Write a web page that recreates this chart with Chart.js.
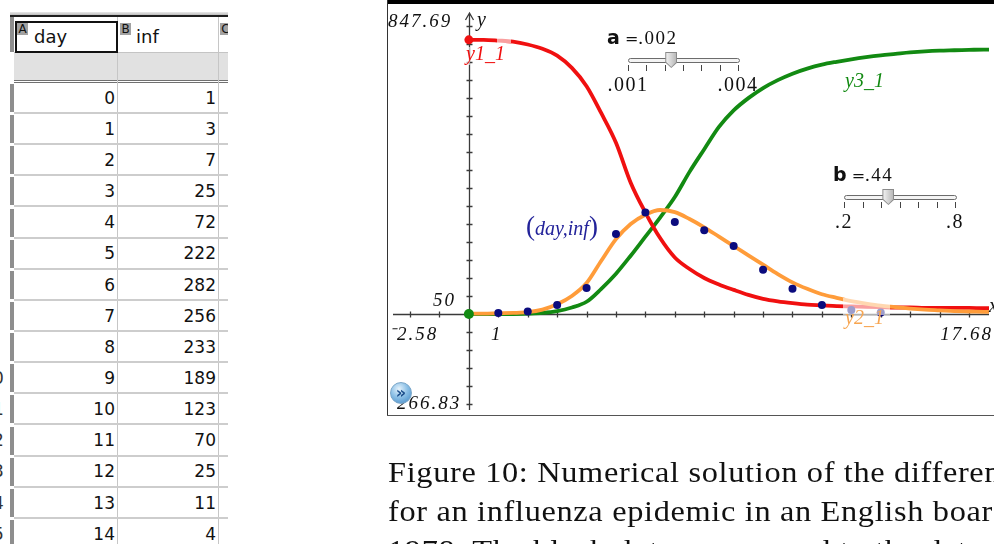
<!DOCTYPE html>
<html>
<head>
<meta charset="utf-8">
<title>Influenza epidemic – SIR model</title>
<script src="https://cdn.jsdelivr.net/npm/chart.js@4.4.1/dist/chart.umd.min.js"></script>
<style>
  body { margin: 0; width: 994px; height: 544px; overflow: hidden; background: #fff; position: relative; }
  .abs { position: absolute; }
  .txt { position: absolute; white-space: nowrap; }
  #sheet { position: absolute; left: 0; top: 0; width: 228px; height: 544px; overflow: hidden; font-family: "DejaVu Sans"; color: #1a1a1a; }
  .badge { position: absolute; width: 11px; height: 12px; background: #a2a2a2; font: 12px/12px "DejaVu Sans"; color: #111; text-align: center; }
  #graphBox { position: absolute; left: 388px; top: 4px; width: 606px; height: 411px; }
  .track { position: absolute; height: 3px; border: 1px solid #6c6c6c; border-radius: 3px; background: #f4f4f4; }
  .thumb { position: absolute; width: 10px; height: 14px; background: linear-gradient(90deg, #f2f2f2, #b9b9b9); clip-path: polygon(0 0, 100% 0, 100% 65%, 50% 100%, 0 65%); }
  .thumbEdge { position: absolute; width: 12px; height: 16px; background: #8a8a8a; clip-path: polygon(0 0, 100% 0, 100% 65%, 50% 100%, 0 65%); }
  .tick { position: absolute; width: 1px; height: 6px; background: #444; }
  #caption { position: absolute; left: 388px; top: 0; width: 700px; height: 544px; font-family: "Liberation Serif"; color: #111; white-space: nowrap; transform: scaleX(1.115); transform-origin: 0 0; }
</style>
</head>
<body>

<div id="sheet"></div>

<div class="abs" style="left:388px;top:0;width:606px;height:4px;background:#000"></div>
<div class="abs" style="left:387px;top:0;width:1px;height:416px;background:#333"></div>
<div class="abs" style="left:387px;top:415px;width:607px;height:1px;background:#555"></div>
<div id="graphBox"><canvas id="graph" width="606" height="411"></canvas></div>
<div id="overlay"></div>
<div id="caption"></div>

<script>
// spreadsheet columns
const days = [0, 1, 2, 3, 4, 5, 6, 7, 8, 9, 10, 11, 12, 13, 14];
const inf = [1, 3, 7, 25, 72, 222, 282, 256, 233, 189, 123, 70, 25, 11, 4];

// sequence plots (half-day steps)
const curveDays = [0, 0.5, 1, 1.5, 2, 2.5, 3, 3.5, 4, 4.5, 5, 5.5, 6, 6.5, 7, 7.5, 8, 8.5, 9, 9.5,
  10, 10.5, 11, 11.5, 12, 12.5, 13, 13.5, 14, 14.5, 15, 15.5, 16, 16.5, 17, 17.5, 18];
const y1 = [762, 762, 760, 757, 749, 737, 718, 684, 633, 558, 476, 365, 282, 211, 157, 125, 100, 82, 67, 53,
  42, 35, 30, 26, 24, 22, 21, 20, 19, 18, 18, 17, 17, 17, 17, 16, 16];
const y2 = [1, 1, 2, 3, 5, 12, 27, 50, 86, 148, 208, 250, 276, 289, 283, 264, 241, 215, 189, 163,
  137, 111, 88, 70, 55, 45, 36, 29, 23, 19, 15, 12, 10, 8, 7, 6, 5];
const y3 = [0, 0, 0, 0, 1, 3, 8, 18, 34, 70, 112, 162, 215, 268, 325, 395, 458, 520, 566, 600,
  628, 650, 668, 682, 693, 701, 708, 714, 719, 723, 727, 730, 732, 733, 734, 735, 735];

// graph window
const xWindow = [-2.58, 17.68];
const yWindow = [-266.83, 847.69];
const xScaleStep = 1;
const yScaleStep = 50;

// sliders
const sliderA = { value: 0.00218, min: 0.001, max: 0.004, shown: '.002', minLabel: '.001', maxLabel: '.004' };
const sliderB = { value: 0.44, min: 0.2, max: 0.8, shown: '.44', minLabel: '.2', maxLabel: '.8' };

const captionLines = [
  'Figure 10: Numerical solution of the differential equations',
  'for an influenza epidemic in an English boarding school in',
  '1978. The black dots correspond to the data.'
];

// ---------- helpers ----------
function el(parent, cls, style, text) {
  const d = document.createElement('div');
  if (cls) d.className = cls;
  Object.assign(d.style, style);
  if (text !== undefined) d.textContent = text;
  parent.appendChild(d);
  return d;
}
// place text by baseline (approximate ascent factor)
function label(parent, text, x, baseline, opts) {
  const size = opts.size || 19;
  const st = {
    left: x + 'px',
    top: (baseline - 0.84 * size) + 'px',
    font: (opts.style || '') + ' ' + (opts.weight || '') + ' ' + size + 'px/' + size + 'px ' + (opts.family || '"Liberation Serif"'),
    color: opts.color || '#111',
    letterSpacing: (opts.ls || 0) + 'px'
  };
  const d = el(parent, 'txt', st);
  if (opts.html) d.innerHTML = text; else d.textContent = text;
  if (opts.align === 'right') { d.style.left = ''; d.style.right = (994 - x) + 'px'; }
  if (opts.align === 'center') { d.style.transform = 'translateX(-50%)'; }
  return d;
}

// ---------- spreadsheet ----------
const sheet = document.getElementById('sheet');
el(sheet, 'abs', { left: '10px', top: '12px', width: '218px', height: '3px', background: 'linear-gradient(#e8e8e8,#bcbcbc)' });
el(sheet, 'abs', { left: '10px', top: '15px', width: '218px', height: '2px', background: '#1e1e1e' });
el(sheet, 'abs', { left: '14px', top: '53px', width: '214px', height: '27px', background: '#e1e1e1' });
el(sheet, 'abs', { left: '14px', top: '52px', width: '214px', height: '1px', background: '#c4c4c4' });
el(sheet, 'abs', { left: '14px', top: '80px', width: '214px', height: '1px', background: '#707070' });
el(sheet, 'abs', { left: '14px', top: '82px', width: '214px', height: '1px', background: '#707070' });
el(sheet, 'abs', { left: '117px', top: '17px', width: '1px', height: '527px', background: '#c6c6c6' });
el(sheet, 'abs', { left: '218px', top: '17px', width: '1px', height: '527px', background: '#c6c6c6' });

const rowH = 31.14;
days.forEach((d, i) => {
  const top = 83 + rowH * i;
  const base = 104 + rowH * i;
  el(sheet, 'abs', { left: '14px', top: (top + 29) + 'px', width: '214px', height: '2px', background: '#cdcdcd' });
  el(sheet, 'abs', { left: '10px', top: (top + 1) + 'px', width: '4px', height: '28px', background: '#8e8e8e' });
  label(sheet, String(i + 1), -7, base, { family: '"DejaVu Sans"', size: 17, color: '#333', align: 'center' });
  const a = label(sheet, String(d), 0, base, { family: '"DejaVu Sans"', size: 17 });
  a.style.left = ''; a.style.right = (228 - 115) + 'px';
  const b = label(sheet, String(inf[i]), 0, base, { family: '"DejaVu Sans"', size: 17 });
  b.style.left = ''; b.style.right = (228 - 216) + 'px';
});
el(sheet, 'abs', { left: '10px', top: '17px', width: '4px', height: '35px', background: '#8e8e8e' });
el(sheet, 'abs', { left: '15px', top: '21px', width: '103px', height: '32px', border: '2.5px solid #111', boxSizing: 'border-box' });
el(sheet, 'badge', { left: '17px', top: '23px' }, 'A');
el(sheet, 'badge', { left: '120px', top: '23px' }, 'B');
el(sheet, 'badge', { left: '220px', top: '23px' }, 'C');
label(sheet, 'day', 34, 43, { family: '"DejaVu Sans"', size: 18 });
label(sheet, 'inf', 136, 43, { family: '"DejaVu Sans"', size: 18 });

// ---------- graph ----------
const toXY = (xs, ys) => xs.map((x, i) => ({ x: x, y: ys[i] }));
const red = '#f01010', orange = '#ff9c3a', green = '#128a12', navy = '#0b0b7e';

const tiAxes = {
  id: 'tiAxes',
  beforeDatasetsDraw(chart) {
    const { ctx, scales: { x, y }, chartArea: a } = chart;
    const x0 = Math.round(x.getPixelForValue(0)) + 0.5;
    const y0 = Math.round(y.getPixelForValue(0)) + 0.5;
    ctx.save();
    ctx.strokeStyle = '#3a3a3a';
    ctx.lineWidth = 1.3;
    ctx.beginPath();
    ctx.moveTo(a.left, y0); ctx.lineTo(a.right, y0);
    ctx.moveTo(x0, a.top + 4); ctx.lineTo(x0, a.bottom);
    // arrow head of y axis
    ctx.moveTo(x0 - 4, a.top + 11); ctx.lineTo(x0, a.top + 4); ctx.lineTo(x0 + 4, a.top + 11);
    for (let v = Math.ceil(xWindow[0]); v <= xWindow[1]; v += xScaleStep) {
      if (v === 0) continue;
      const px = Math.round(x.getPixelForValue(v)) + 0.5;
      ctx.moveTo(px, y0 - 3); ctx.lineTo(px, y0 + 3);
    }
    for (let v = Math.ceil(yWindow[0] / yScaleStep) * yScaleStep; v <= yWindow[1]; v += yScaleStep) {
      if (v === 0) continue;
      const py = Math.round(y.getPixelForValue(v)) + 0.5;
      ctx.moveTo(x0 - 3, py); ctx.lineTo(x0 + 3, py);
    }
    ctx.stroke();
    ctx.restore();
  }
};

// translucent backgrounds of the curve labels
const labelBoxes = {
  id: 'labelBoxes',
  afterDatasetsDraw(chart) {
    const ctx = chart.ctx;
    ctx.save();
    ctx.fillStyle = 'rgba(255,255,255,0.6)';
    ctx.fillRect(497 - 388, 33 - 4, 14, 10);
    ctx.fillRect(462 - 388, 47 - 4, 8, 18);
    ctx.fillRect(843 - 388, 298 - 4, 47, 17);
    ctx.restore();
  }
};

const curveStyle = { showLine: true, pointRadius: 0, borderWidth: 3.8, cubicInterpolationMode: 'monotone', fill: false };

new Chart(document.getElementById('graph'), {
  type: 'scatter',
  data: {
    datasets: [
      { label: 'start y3_1', data: toXY(curveDays.slice(0, 1), y3.slice(0, 1)), pointRadius: 5, backgroundColor: green, borderWidth: 0, order: -2 },
      { label: 'start y1_1', data: toXY(curveDays.slice(0, 1), y1.slice(0, 1)), pointRadius: 4.5, backgroundColor: red, borderWidth: 0, order: -1 },
      { label: '(day,inf)', data: toXY(days, inf), pointRadius: 4, backgroundColor: navy, borderWidth: 0, order: 0 },
      Object.assign({ label: 'y2_1', data: toXY(curveDays, y2), borderColor: orange, order: 1 }, curveStyle),
      Object.assign({ label: 'y1_1', data: toXY(curveDays, y1), borderColor: red, order: 2 }, curveStyle),
      Object.assign({ label: 'y3_1', data: toXY(curveDays, y3), borderColor: green, order: 3 }, curveStyle)
    ]
  },
  options: {
    responsive: false,
    animation: false,
    events: [],
    layout: { padding: 0 },
    plugins: { legend: { display: false }, tooltip: { enabled: false } },
    scales: {
      x: { type: 'linear', min: xWindow[0], max: xWindow[1], display: false },
      y: { type: 'linear', min: yWindow[0], max: yWindow[1], display: false }
    }
  },
  plugins: [tiAxes, labelBoxes]
});

// ---------- graph texts ----------
const ov = document.getElementById('overlay');
const num = { style: 'italic', size: 19, ls: 2 };
label(ov, yWindow[1].toFixed(2), 388, 27, num);
label(ov, '\u207B' + Math.abs(yWindow[0]).toFixed(2), 389, 409, num);
label(ov, '\u207B' + Math.abs(xWindow[0]).toFixed(2), 389, 340, num);
label(ov, xWindow[1].toFixed(2), 993, 340, Object.assign({ align: 'right' }, num));
label(ov, String(xScaleStep), 491, 340, num);
label(ov, String(yScaleStep), 433, 306, num);
label(ov, 'y', 477, 26, { style: 'italic', size: 20 });
label(ov, 'x', 989, 312, { style: 'italic', size: 20 });
label(ov, 'y1_1', 466, 60, { style: 'italic', size: 20, color: red });
label(ov, 'y3_1', 845, 87, { style: 'italic', size: 20, color: green });
label(ov, 'y2_1', 845, 324, { style: 'italic', size: 20, color: '#f7a550' });
label(ov, '<span style="font-size:27px;font-style:normal;font-weight:100">(</span>day,inf<span style="font-size:27px;font-style:normal">)</span>',
  526, 233, { style: 'italic', size: 20, color: '#23239a', html: true });

// blue "more" bubble
el(ov, 'abs', { left: '390px', top: '382px', width: '22px', height: '22px', borderRadius: '50%',
  background: 'radial-gradient(circle at 40% 30%, #e6f3fc 0%, #8cc0e6 45%, #3f86c4 100%)', border: '1px solid #7aa6c8',
  boxSizing: 'border-box', font: 'bold 16px/20px "DejaVu Sans"', color: '#1d4f8c', textAlign: 'center' }, '\u00BB');

// sliders
function slider(s, name, x, baseline, trackLeft, trackTop, trackWidth) {
  const t = label(ov, '', x, baseline, { size: 19, family: '"DejaVu Sans"' });
  t.innerHTML = '<b style="font-size:19px">' + name + '</b><span style="font-size:16px"> =</span>' +
    '<span style="font:19px \'Liberation Serif\';letter-spacing:1.5px">' + s.shown + '</span>';
  el(ov, 'track', { left: trackLeft + 'px', top: (trackTop - 2) + 'px', width: trackWidth + 'px' });
  for (let k = 0; k <= 6; k++) {
    el(ov, 'tick', { left: Math.round(trackLeft + trackWidth * k / 6) + 'px', top: (trackTop + 5) + 'px' });
  }
  const tx = trackLeft + (s.value - s.min) / (s.max - s.min) * trackWidth;
  el(ov, 'thumbEdge', { left: (tx - 6) + 'px', top: (trackTop - 8) + 'px' });
  el(ov, 'thumb', { left: (tx - 5) + 'px', top: (trackTop - 7) + 'px' });
  label(ov, s.minLabel, trackLeft, trackTop + 31, { size: 20, ls: 1.5, align: 'center' });
  label(ov, s.maxLabel, trackLeft + trackWidth, trackTop + 31, { size: 20, ls: 1.5, align: 'center' });
}
slider(sliderA, 'a', 607, 43, 628, 60, 110);
slider(sliderB, 'b', 833, 180, 844, 197, 111);

// caption (Computer Modern is wider than Times, hence the scaleX on the block)
const cap = document.getElementById('caption');
captionLines.forEach((line, i) => {
  label(cap, line, 0, 482 + 39 * i, { size: 29, ls: 0.6 });
});
</script>
</body>
</html>
